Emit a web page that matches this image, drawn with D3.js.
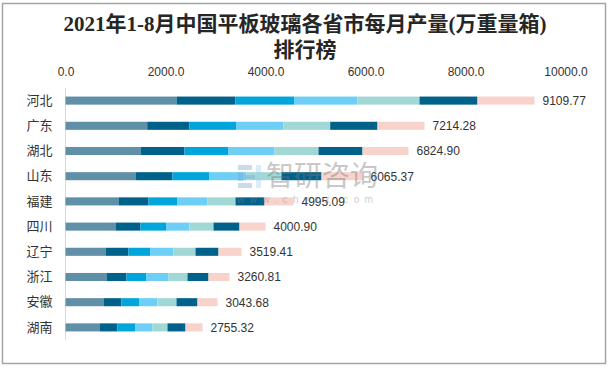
<!DOCTYPE html>
<html>
<head>
<meta charset="utf-8">
<script src="https://cdn.jsdelivr.net/npm/d3@7"></script>
<style>
  body { margin: 0; background: #fff; }
  svg { display: block; }
  text { font-family: "Liberation Sans", "Noto Sans CJK SC", sans-serif; }
</style>
</head>
<body>
<div id="chart"></div>
<script>
// provinces, top to bottom
var provinces = ['河北', '广东', '湖北', '山东', '福建', '四川', '辽宁', '浙江', '安徽', '湖南'];
// stack order, left to right
var months = ['1-2月', '3月', '4月', '5月', '6月', '7月', '8月'];
var monthColors = ['#5f90a8', '#00628b', '#00a5dc', '#6dcff6', '#a1d8d5', '#00628b', '#f8d3cc'];

// monthly output (万重量箱)
var m1_2 = [2220, 1634, 1500, 1400, 1060, 1000, 800, 820, 760, 680];
var m3 = [1180, 846, 880, 740, 600, 500, 460, 400, 360, 360];
var m4 = [1180, 940, 880, 740, 580, 520, 440, 400, 360, 360];
var m5 = [1260, 940, 920, 740, 600, 460, 460, 440, 360, 340];
var m6 = [1240, 934, 880, 700, 560, 480, 440, 380, 380, 300];
var m7 = [1160, 946, 880, 800, 580, 520, 460, 420, 420, 360];
var m8 = [1140, 940, 920, 820, 580, 520, 460, 420, 400, 340];

// totals printed at the bar ends
var totals = [9109.77, 7214.28, 6824.90, 6065.37, 4995.09, 4000.90, 3519.41, 3260.81, 3043.68, 2755.32];

var xTicks = [0, 2000, 4000, 6000, 8000, 10000];

var W = 612, H = 370;

var svg = d3.select('#chart').append('svg')
  .attr('width', W)
  .attr('height', H);

svg.append('rect')
  .attr('x', 0).attr('y', 0)
  .attr('width', W).attr('height', H)
  .attr('fill', '#fff');

// outer frame
svg.append('rect')
  .attr('x', 2.5).attr('y', 3.5)
  .attr('width', 603).attr('height', 360)
  .attr('fill', 'none')
  .attr('stroke', '#a5a5a5')
  .attr('stroke-width', 1.5);

// title
var title = svg.append('text')
  .attr('text-anchor', 'middle')
  .attr('fill', '#262626')
  .style('font-family', '"Liberation Serif", "Noto Sans CJK SC", serif')
  .style('font-size', '21px')
  .style('font-weight', 'bold');
title.append('tspan').attr('x', 305).attr('y', 31)
  .text('2021年1-8月中国平板玻璃各省市每月产量(万重量箱)');
title.append('tspan').attr('x', 305).attr('y', 57)
  .text('排行榜');

var x = d3.scaleLinear().domain([0, 10000]).range([65.5, 565.5]);
var y = d3.scaleBand().domain(provinces).range([88, 340])
  .paddingInner(0.68).paddingOuter(0.34);

// stack the month arrays
var table = provinces.map(function(p, i) {
  return {
    name: p,
    '1-2月': m1_2[i], '3月': m3[i], '4月': m4[i], '5月': m5[i],
    '6月': m6[i], '7月': m7[i], '8月': m8[i]
  };
});
var series = d3.stack().keys(months)(table);

// top axis: labels only
var xAxis = d3.axisTop(x)
  .tickValues(xTicks)
  .tickFormat(d3.format('.1f'))
  .tickSize(0)
  .tickPadding(0);

var ax = svg.append('g')
  .attr('transform', 'translate(0,76)')
  .call(xAxis);
ax.select('.domain').remove();
ax.selectAll('text')
  .attr('fill', '#333')
  .style('font-size', '12px');

// left axis: line + category labels
var yAxis = d3.axisLeft(y).tickSize(0).tickPadding(13);
var ay = svg.append('g')
  .attr('transform', 'translate(65.5,0)')
  .call(yAxis);
ay.select('.domain')
  .attr('stroke', '#d9d9d9')
  .attr('d', 'M0,88V340');
ay.selectAll('text')
  .attr('fill', '#333')
  .style('font-family', '"Noto Sans CJK SC", sans-serif')
  .style('font-size', '13px');

// bars
var groups = svg.append('g').selectAll('g')
  .data(series)
  .join('g')
  .attr('fill', function(d, i) { return monthColors[i]; });

groups.selectAll('rect')
  .data(function(d) { return d; })
  .join('rect')
  .attr('x', function(d) { return x(d[0]); })
  .attr('y', function(d) { return y(d.data.name); })
  .attr('width', function(d) { return x(d[1]) - x(d[0]); })
  .attr('height', y.bandwidth());

// value labels at bar ends
var last = series[series.length - 1];
svg.append('g').selectAll('text')
  .data(last)
  .join('text')
  .attr('x', function(d) { return x(d[1]) + 8; })
  .attr('y', function(d) { return y(d.data.name) + y.bandwidth() / 2; })
  .attr('dy', '0.36em')
  .attr('fill', '#333')
  .style('font-size', '12px')
  .text(function(d, i) { return d3.format('.2f')(totals[i]); });

// watermark
var wm = svg.append('g').attr('opacity', 0.4);
wm.append('rect').attr('x', 238).attr('y', 165).attr('width', 14).attr('height', 5).attr('fill', '#7fa7cf');
wm.append('rect').attr('x', 238).attr('y', 172).attr('width', 5).attr('height', 9).attr('fill', '#7fa7cf');
wm.append('rect').attr('x', 245).attr('y', 175).attr('width', 10).attr('height', 4).attr('fill', '#7fa7cf');
wm.append('rect').attr('x', 238).attr('y', 183).attr('width', 14).attr('height', 5).attr('fill', '#7fa7cf');
wm.append('rect').attr('x', 256).attr('y', 165).attr('width', 5).attr('height', 23).attr('fill', '#9fd3f0');
wm.append('text')
  .attr('x', 266).attr('y', 186)
  .attr('fill', '#777')
  .style('font-family', '"Noto Sans CJK SC", sans-serif')
  .style('font-size', '28px')
  .text('智研咨询');
wm.append('text')
  .attr('x', 237).attr('y', 203)
  .attr('fill', '#888')
  .style('font-size', '10px')
  .style('letter-spacing', '5.4px')
  .text('www.chyxx.com');
</script>
</body>
</html>
